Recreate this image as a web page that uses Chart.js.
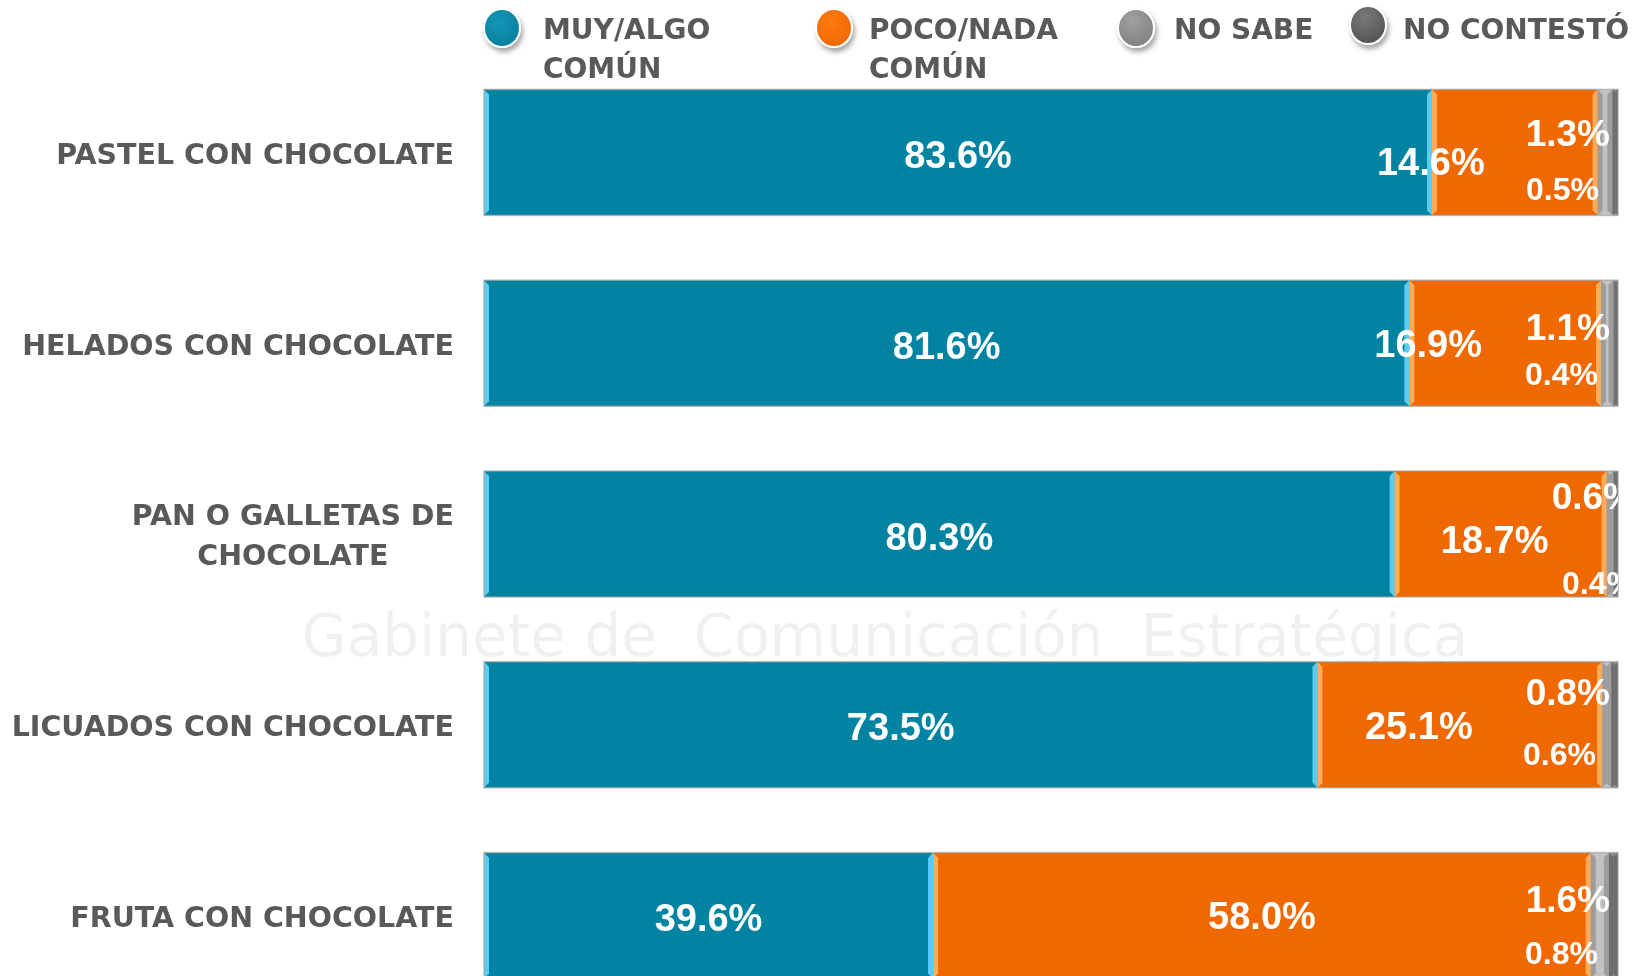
<!DOCTYPE html>
<html>
<head>
<meta charset="utf-8">
<script src="https://cdn.jsdelivr.net/npm/chart.js@4.4.1/dist/chart.umd.min.js"></script>
<style>
	html, body { margin: 0; padding: 0; background: #fff; overflow: hidden; }
	#wrap { position: relative; width: 1635px; height: 976px; overflow: hidden; }
	#chart-chocolate { position: absolute; left: 0; top: 0; }
	.legend-item { position: absolute; top: 0; }
	.legend-dot {
		position: absolute; width: 34px; height: 36px; border-radius: 50%;
		border: 2px solid #fff; box-shadow: 2px 4px 5px rgba(0, 0, 0, 0.35);
	}
	.legend-text {
		position: absolute; white-space: nowrap;
		font: bold 28px "DejaVu Sans", sans-serif; line-height: 39px; color: #595959;
	}
</style>
</head>
<body>
<div id="wrap">
	<canvas id="chart-chocolate" width="1635" height="1012"></canvas>
	<div id="legend"></div>
</div>
<script>
const CATEGORIES = ["PASTEL CON CHOCOLATE", "HELADOS CON CHOCOLATE", ["PAN O GALLETAS DE", "CHOCOLATE"], "LICUADOS CON CHOCOLATE", "FRUTA CON CHOCOLATE"];
const SERIES_NAMES = [["MUY/ALGO", "COMÚN"], ["POCO/NADA", "COMÚN"], ["NO SABE"], ["NO CONTESTÓ"]];
const MUY_ALGO = [83.6, 81.6, 80.3, 73.5, 39.6];
const POCO_NADA = [14.6, 16.9, 18.7, 25.1, 58.0];
const NO_SABE = [1.3, 1.1, 0.6, 0.8, 1.6];
const NO_CONTESTO = [0.5, 0.4, 0.4, 0.6, 0.8];

//------------------------------------------------------------
// Styles
//------------------------------------------------------------
const COLORS = ["#0283a2", "#f06800", "#c2c2c2", "#8c8c8c"];
const BEVEL = ["#5ccdee", "#ffab5c", "#9d9d9d", "#6e6e6e"];
const DOT_FILL = [
	"radial-gradient(circle at 40% 35%, #1596b5, #037a97)",
	"radial-gradient(circle at 40% 35%, #ff7a10, #ec6400)",
	"radial-gradient(circle at 40% 30%, #a0a0a0, #7a7a7a)",
	"radial-gradient(circle at 40% 30%, #7a7a7a, #4a4a4a)",
];
const LEGEND_POS = [[483, 543], [815, 869], [1117, 1174], [1349, 1403]];
const LEGEND_TOP = [8, 8, 8, 5];
const TEXT_FONT = '"DejaVu Sans", sans-serif';
const NUM_FONT = '"Liberation Sans", Arial, sans-serif';

// data label placement, per dataset
const LABELS = [
	{ size: 38, anchor: "center", dx: [0, 0, 0, 0, 0], dy: [2, 2, 2, 2, 2] },
	{ size: 38, anchor: "center", dx: [-84, -77, -6, -41, 0], dy: [9, 0, 5, 1, 0] },
	{ size: 37, anchor: "end", dx: [-8, -8, 18, -8, -8], dy: [-20, -16, -38, -33, -17] },
	{ size: 32, anchor: "end", dx: [-19, -20, 17, -22, -20], dy: [36, 30, 49, 29, 37] },
];

//------------------------------------------------------------
// Legend
//------------------------------------------------------------
const legend = document.getElementById("legend");
SERIES_NAMES.forEach((name, i) => {
	const item = document.createElement("div");
	item.className = "legend-item";
	const dot = document.createElement("div");
	dot.className = "legend-dot";
	dot.style.left = LEGEND_POS[i][0] + "px";
	dot.style.top = LEGEND_TOP[i] + "px";
	dot.style.background = DOT_FILL[i];
	const txt = document.createElement("div");
	txt.className = "legend-text";
	txt.style.left = LEGEND_POS[i][1] + "px";
	txt.style.top = "10px";
	txt.innerHTML = name.join("<br>");
	item.appendChild(dot);
	item.appendChild(txt);
	legend.appendChild(item);
});

//------------------------------------------------------------
// Plugins
//------------------------------------------------------------
const barBox = (bar) => {
	const p = bar.getProps(["x", "y", "base", "height"], true);
	return { l: Math.min(p.x, p.base), r: Math.max(p.x, p.base), t: p.y - p.height / 2, b: p.y + p.height / 2, cy: p.y };
};

const watermark = {
	id: "watermark",
	beforeDatasetsDraw(chart) {
		const ctx = chart.ctx;
		ctx.save();
		ctx.fillStyle = "rgba(0, 0, 0, 0.06)";
		ctx.font = '58px "DejaVu Sans", sans-serif';
		ctx.textAlign = "center";
		ctx.textBaseline = "middle";
		ctx.fillText("Gabinete de  Comunicación  Estratégica", 885, 641);
		ctx.restore();
	},
};

const categoryLabels = {
	id: "categoryLabels",
	afterDraw(chart) {
		const ctx = chart.ctx;
		const yScale = chart.scales.y;
		ctx.save();
		ctx.font = "bold 28.5px " + TEXT_FONT;
		ctx.fillStyle = "#595959";
		ctx.textAlign = "center";
		ctx.textBaseline = "middle";
		CATEGORIES.forEach((label, i) => {
			const lines = Array.isArray(label) ? label : [label];
			const w = Math.max(...lines.map((l) => ctx.measureText(l).width));
			const cx = 454 - w / 2;
			const cy = yScale.getPixelForTick(i);
			lines.forEach((line, j) => {
				ctx.fillText(line, cx, cy + (j - (lines.length - 1) / 2) * 40 + 4);
			});
		});
		ctx.restore();
	},
};

const bevelBars = {
	id: "bevelBars",
	afterDatasetsDraw(chart) {
		const ctx = chart.ctx;
		ctx.save();
		chart.data.datasets.forEach((ds, di) => {
			chart.getDatasetMeta(di).data.forEach((bar) => {
				const { l, r, t, b } = barBox(bar);
				const w = Math.min(5, (r - l) / 2);
				ctx.fillStyle = BEVEL[di];
				ctx.beginPath();
				ctx.moveTo(l, t);
				ctx.lineTo(l + w, t + w);
				ctx.lineTo(l + w, b - w);
				ctx.lineTo(l, b);
				ctx.closePath();
				ctx.fill();
				ctx.beginPath();
				ctx.moveTo(r, t);
				ctx.lineTo(r - w, t + w);
				ctx.lineTo(r - w, b - w);
				ctx.lineTo(r, b);
				ctx.closePath();
				ctx.fill();
			});
		});
		// thin outline round each full bar
		const first = chart.getDatasetMeta(0).data;
		const last = chart.getDatasetMeta(chart.data.datasets.length - 1).data;
		ctx.strokeStyle = "rgba(160, 160, 160, 0.7)";
		ctx.lineWidth = 1.5;
		first.forEach((bar, i) => {
			const a = barBox(bar);
			const z = barBox(last[i]);
			ctx.strokeRect(a.l, a.t, z.r - a.l, a.b - a.t);
		});
		ctx.restore();
	},
};

const dataLabels = {
	id: "dataLabels",
	afterDatasetsDraw(chart) {
		const ctx = chart.ctx;
		const area = chart.chartArea;
		ctx.save();
		ctx.beginPath();
		ctx.rect(0, 0, area.right, chart.height);
		ctx.clip();
		ctx.fillStyle = "#ffffff";
		ctx.textBaseline = "alphabetic";
		chart.data.datasets.forEach((ds, di) => {
			const cfg = LABELS[di];
			ctx.font = "bold " + cfg.size + "px " + NUM_FONT;
			chart.getDatasetMeta(di).data.forEach((bar, i) => {
				const { l, r, cy } = barBox(bar);
				const text = ds.data[i].toFixed(1) + "%";
				let x;
				if (cfg.anchor === "center") {
					ctx.textAlign = "center";
					x = (l + r) / 2 + cfg.dx[i];
				} else {
					ctx.textAlign = "right";
					x = area.right + cfg.dx[i];
				}
				ctx.fillText(text, x, cy + cfg.dy[i] + cfg.size * 0.358);
			});
		});
		ctx.restore();
	},
};

//------------------------------------------------------------
// Chart
//------------------------------------------------------------
const SERIES = [MUY_ALGO, POCO_NADA, NO_SABE, NO_CONTESTO];
const CHART_DATA = {
	labels: CATEGORIES,
	datasets: SERIES.map((values, i) => ({
		label: SERIES_NAMES[i].join(" "),
		data: values,
		backgroundColor: COLORS[i],
		borderWidth: 0,
		barPercentage: 0.66,
		categoryPercentage: 1,
	})),
};

const CHART_CONFIG = {
	type: "bar",
	data: CHART_DATA,
	plugins: [watermark, bevelBars, dataLabels, categoryLabels],
	options: {
		responsive: false,
		animation: false,
		indexAxis: "y",
		layout: {
			padding: { top: 57, bottom: 1, left: 0, right: 17 },
		},
		plugins: {
			legend: { display: false },
			title: { display: false },
			tooltip: { enabled: false },
		},
		scales: {
			x: {
				stacked: true,
				min: 0,
				max: 100,
				display: false,
			},
			y: {
				stacked: true,
				grid: { display: false },
				border: { display: false },
				ticks: { display: false },
				afterFit: (scale) => {
					scale.width = 484;
				},
			},
		},
	},
};

new Chart(document.getElementById("chart-chocolate"), CHART_CONFIG);
</script>
</body>
</html>
